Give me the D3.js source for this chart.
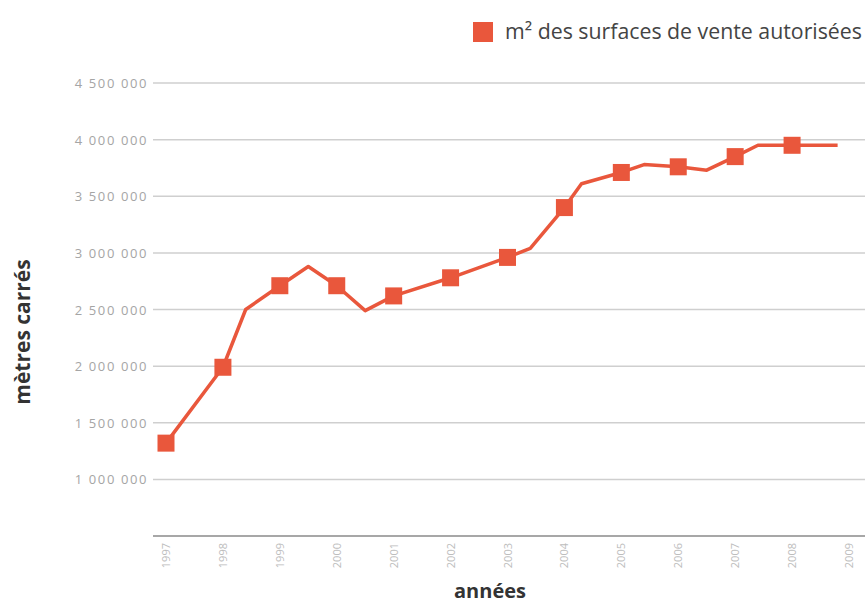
<!DOCTYPE html>
<html>
<head>
<meta charset="utf-8">
<script src="https://cdn.jsdelivr.net/npm/d3@7"></script>
<style>
	body { margin: 0; background: #fff; }
	svg { display: block; }
</style>
</head>
<body>
<div id="chart"></div>
<script>
	/* Data */
	let years = [1997, 1998, 1998.4, 1999, 1999.5, 2000, 2000.5, 2001, 2002, 2003, 2003.4, 2004, 2004.3, 2005, 2005.4, 2006, 2006.5, 2007, 2007.4, 2008, 2008.8];
	let surfaces = [1320000, 1990000, 2500000, 2710000, 2880000, 2710000, 2490000, 2620000, 2780000, 2960000, 3040000, 3400000, 3610000, 3710000, 3780000, 3760000, 3730000, 3850000, 3950000, 3950000, 3950000];
	let tickYears = [1997, 1998, 1999, 2000, 2001, 2002, 2003, 2004, 2005, 2006, 2007, 2008, 2009];
	let tickValues = [500000, 1000000, 1500000, 2000000, 2500000, 3000000, 3500000, 4000000, 4500000];
	let seriesName = "m² des surfaces de vente autorisées";

	let width = 865;
	let height = 603;
	let color = "#e9573c";

	let svg = d3.select("#chart").append("svg")
		.attr("width", width)
		.attr("height", height);

	let x = d3.scaleLinear().domain([1997, 2009]).range([166, 849]);
	let y = d3.scaleLinear().domain([500000, 4500000]).range([536, 83]);

	let fmt = function(v) { return d3.format(",")(v).replace(/,/g, " "); };
	let gridValues = tickValues.filter(function(d) { return d > 500000; });

	// Gridlines
	svg.append("g")
		.selectAll("line")
		.data(gridValues)
		.enter().append("line")
		.attr("x1", 153)
		.attr("x2", width)
		.attr("y1", function(d) { return y(d); })
		.attr("y2", function(d) { return y(d); })
		.attr("stroke", "#cfcfcf")
		.attr("stroke-width", 1.5);

	// Baseline
	svg.append("line")
		.attr("x1", 153)
		.attr("x2", width)
		.attr("y1", y(500000))
		.attr("y2", y(500000))
		.attr("stroke", "#8a8a8a")
		.attr("stroke-width", 1.5);

	// Y tick labels
	svg.append("g")
		.selectAll("text")
		.data(gridValues)
		.enter().append("text")
		.attr("x", 148)
		.attr("y", function(d) { return y(d) + 5; })
		.attr("text-anchor", "end")
		.attr("font-family", "'Open Sans', sans-serif")
		.attr("font-size", 13)
		.attr("letter-spacing", 1.6)
		.attr("fill", "#a5a5a5")
		.text(fmt);

	// X tick labels (rotated)
	svg.append("g")
		.selectAll("text")
		.data(tickYears)
		.enter().append("text")
		.attr("transform", function(d) { return "translate(" + (x(d) + 4) + ",543) rotate(-90)"; })
		.attr("text-anchor", "end")
		.attr("font-family", "'Open Sans', sans-serif")
		.attr("font-size", 11)
		.attr("fill", "#bdbdbd")
		.text(function(d) { return d; });

	// Axis titles
	svg.append("text")
		.attr("transform", "translate(30,332) rotate(-90)")
		.attr("text-anchor", "middle")
		.attr("font-family", "'Open Sans', sans-serif")
		.attr("font-weight", "bold")
		.attr("font-size", 21)
		.attr("fill", "#333")
		.text("mètres carrés");

	svg.append("text")
		.attr("x", 490)
		.attr("y", 598)
		.attr("text-anchor", "middle")
		.attr("font-family", "'Open Sans', sans-serif")
		.attr("font-weight", "bold")
		.attr("font-size", 20)
		.attr("fill", "#333")
		.text("années");

	// Line
	let points = years.map(function(d, i) { return { year: d, value: surfaces[i] }; });
	let line = d3.line()
		.x(function(d) { return x(d.year); })
		.y(function(d) { return y(d.value); });

	svg.append("path")
		.datum(points)
		.attr("d", line)
		.attr("fill", "none")
		.attr("stroke", color)
		.attr("stroke-width", 3.5)
		.attr("stroke-linejoin", "round");

	// Markers on whole years
	let size = 17;
	svg.append("g")
		.selectAll("rect")
		.data(points.filter(function(d) { return d.year % 1 === 0; }))
		.enter().append("rect")
		.attr("x", function(d) { return x(d.year) - size / 2; })
		.attr("y", function(d) { return y(d.value) - size / 2; })
		.attr("width", size)
		.attr("height", size)
		.attr("fill", color);

	// Legend
	let legend = svg.append("g").attr("transform", "translate(473,22)");
	legend.append("rect")
		.attr("width", 20)
		.attr("height", 20)
		.attr("fill", color);
	legend.append("text")
		.attr("x", 32)
		.attr("y", 17)
		.attr("font-family", "'Open Sans', sans-serif")
		.attr("font-size", 21.3)
		.attr("fill", "#444")
		.text(seriesName);
</script>
</body>
</html>
